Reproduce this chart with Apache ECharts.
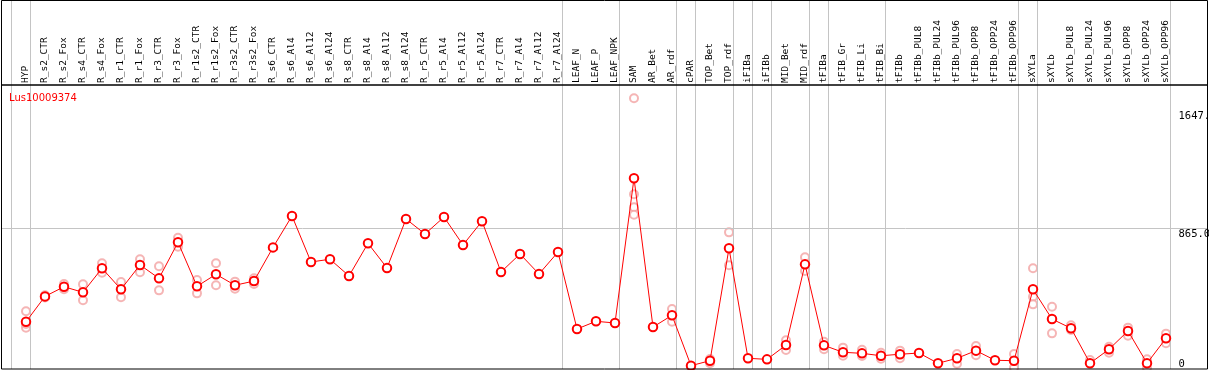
<!DOCTYPE html>
<html>
<head>
<meta charset="utf-8">
<script src="https://cdn.jsdelivr.net/npm/echarts@6/dist/echarts.min.js"></script>
<style>html,body{margin:0;padding:0;background:#fff}#c{width:1209px;height:370px}</style>
</head>
<body>
<div id="c"></div>
<script>
const categories = ["HYP","R_s2_CTR","R_s2_Fox","R_s4_CTR","R_s4_Fox","R_r1_CTR","R_r1_Fox","R_r3_CTR","R_r3_Fox","R_r1s2_CTR","R_r1s2_Fox","R_r3s2_CTR","R_r3s2_Fox","R_s6_CTR","R_s6_Al4","R_s6_Al12","R_s6_Al24","R_s8_CTR","R_s8_Al4","R_s8_Al12","R_s8_Al24","R_r5_CTR","R_r5_Al4","R_r5_Al12","R_r5_Al24","R_r7_CTR","R_r7_Al4","R_r7_Al12","R_r7_Al24","LEAF_N","LEAF_P","LEAF_NPK","SAM","AR_Bet","AR_rdf","cPAR","TOP_Bet","TOP_rdf","iFIBa","iFIBb","MID_Bet","MID_rdf","tFIBa","tFIB_Gr","tFIB_Li","tFIB_Bi","tFIBb","tFIBb_PUL8","tFIBb_PUL24","tFIBb_PUL96","tFIBb_OPP8","tFIBb_OPP24","tFIBb_OPP96","sXYLa","sXYLb","sXYLb_PUL8","sXYLb_PUL24","sXYLb_PUL96","sXYLb_OPP8","sXYLb_OPP24","sXYLb_OPP96"];
const meanValues = [243,412,476,439,599,459,621,532,772,479,559,486,514,738,947,641,659,548,765,601,927,827,940,754,912,574,694,561,707,195,246,235,1198,208,286,-49,-16,732,0,-7,88,625,86,40,33,17,27,35,-33,0,51,-13,-16,459,261,200,-33,60,182,-33,133];
const rep1 = [313,420,494,492,632,508,659,612,802,521,632,510,532,null,null,null,null,null,null,null,null,null,null,null,null,null,null,null,null,null,null,null,1730,null,328,null,-5,838,null,null,120,672,110,71,57,37,51,null,null,29,82,null,29,599,343,220,-11,77,204,-7,164];
const rep2 = [204,405,459,386,570,406,572,452,742,432,486,463,494,null,null,null,null,null,null,null,null,null,null,null,null,null,null,null,null,null,null,null,1091,null,243,null,-33,619,null,null,55,581,60,17,16,-3,0,null,null,-36,20,null,-63,410,166,188,null,37,150,-63,100];
const rep3 = [228,null,null,null,null,null,null,null,null,null,null,null,null,null,null,null,null,null,null,null,null,null,null,null,null,null,null,null,null,null,null,null,1005,null,null,null,null,null,null,null,null,null,null,null,null,null,null,null,null,null,null,null,null,359,null,null,null,null,null,null,null];
const rep4 = [null,null,null,null,null,null,null,null,null,null,null,null,null,null,null,null,null,null,null,null,null,null,null,null,null,null,null,null,null,null,null,null,955,null,null,null,null,null,null,null,null,null,null,null,null,null,null,null,null,null,null,null,null,null,null,null,null,null,null,null,null];
const yTickValues = [0, 865, 1647];
const gridLineValue = 865;
// group separators: drawn just after these category indices (-1 = before the first)
const separatorAfter = [-1,0,28,31,34,35,37,38,39,41,42,45,52,53,60];

const OV_X_MIN = -0.3158, OV_X_MAX = 63.158, OV_Y_MIN = -71.2, OV_Y_MAX = 2383.9;
const chart = echarts.init(document.getElementById('c'), null, {renderer: 'canvas'});
const repStyle = {type: 'scatter', xAxisIndex: 0, yAxisIndex: 0, symbol: 'emptyCircle', symbolSize: 8,
  itemStyle: {color: '#f2a3a3', borderColor: '#f2a3a3', borderWidth: 1.3}, z: 3, silent: true, clip: false};
// overlay axis counts category slots from 1 (slot k+1 = category k)
const sepPositions = separatorAfter.map(i => i + 1 + 0.24);
const sepLines = sepPositions.map(v => [{coord: [v, OV_Y_MIN]}, {coord: [v, OV_Y_MAX]}]);
sepLines.push([{coord: [OV_X_MIN, gridLineValue]}, {coord: [OV_X_MAX, gridLineValue]}]);
const sepSegments = sepPositions.map(v => ({coords: [[v, OV_Y_MIN], [v, OV_Y_MAX]]}));

chart.setOption({
  animation: false,
  title: {text: 'Lus10009374', left: 9, top: 93, padding: 0,
    textStyle: {color: '#ff0000', fontSize: 10, fontWeight: 'normal', fontFamily: 'DejaVu Sans'}},
  grid: [
    {left: 16.5, right: 33.5, top: 85, bottom: 1, containLabel: false, outerBoundsMode: 'none'},
    {left: 1, right: 2, top: 0, bottom: 1, containLabel: false, outerBoundsMode: 'none'}
  ],
  xAxis: [
    {type: 'category', gridIndex: 0, position: 'top', data: categories, boundaryGap: true,
      axisLine: {show: false}, axisTick: {show: false}, splitLine: {show: false},
      axisLabel: {interval: 0, rotate: 90, margin: 2, color: '#000', fontSize: 9.5, fontFamily: 'DejaVu Sans Mono'}},
    {type: 'value', gridIndex: 1, min: OV_X_MIN, max: OV_X_MAX, show: false}
  ],
  yAxis: [
    {type: 'value', gridIndex: 0, position: 'right', min: -71.2, max: 1818.4,
      axisLine: {show: false}, axisTick: {show: false}, splitLine: {show: false},
      axisLabel: {customValues: yTickValues, margin: 3, color: '#000', fontSize: 10.5, fontFamily: 'DejaVu Sans Mono',
        align: 'left', verticalAlign: 'top', showMinLabel: true, showMaxLabel: true,
        formatter: v => v === 0 ? '0' : v.toFixed(1)}},
    {type: 'value', gridIndex: 1, min: OV_Y_MIN, max: OV_Y_MAX, show: false}
  ],
  series: [
    {type: 'line', xAxisIndex: 1, yAxisIndex: 1, z: 1, silent: true, symbol: 'none',
      data: [[OV_X_MIN, OV_Y_MIN], [OV_X_MAX, OV_Y_MIN]], lineStyle: {opacity: 0},
      markLine: {silent: true, symbol: ['none', 'none'], label: {show: false}, animation: false,
        lineStyle: {color: '#c4c4c4', width: 1, type: 'solid'}, emphasis: {disabled: true}, data: sepLines}},
    {type: 'lines', coordinateSystem: 'cartesian2d', xAxisIndex: 1, yAxisIndex: 1, z: 1, silent: true,
      polyline: false, lineStyle: {color: '#c4c4c4', width: 1, opacity: 1, curveness: 0}, data: sepSegments},
    Object.assign({data: rep1}, repStyle),
    Object.assign({data: rep2}, repStyle),
    Object.assign({data: rep3}, repStyle),
    Object.assign({data: rep4}, repStyle),
    {type: 'line', xAxisIndex: 0, yAxisIndex: 0, data: meanValues, z: 5, clip: false, silent: true,
      symbol: 'emptyCircle', symbolSize: 8.5, showAllSymbol: true,
      lineStyle: {color: '#ff0000', width: 1},
      itemStyle: {color: '#ff0000', borderColor: '#ff0000', borderWidth: 1.8}}
  ],
  graphic: [
    {type: 'rect', z: 100, silent: true, shape: {x: 1.5, y: 0.5, width: 1206, height: 368.5},
      style: {fill: 'none', stroke: '#000', lineWidth: 1}},
    {type: 'line', z: 100, silent: true, shape: {x1: 1, y1: 85, x2: 1208, y2: 85},
      style: {stroke: '#000', lineWidth: 1.6}}
  ]
});
</script>
</body>
</html>
